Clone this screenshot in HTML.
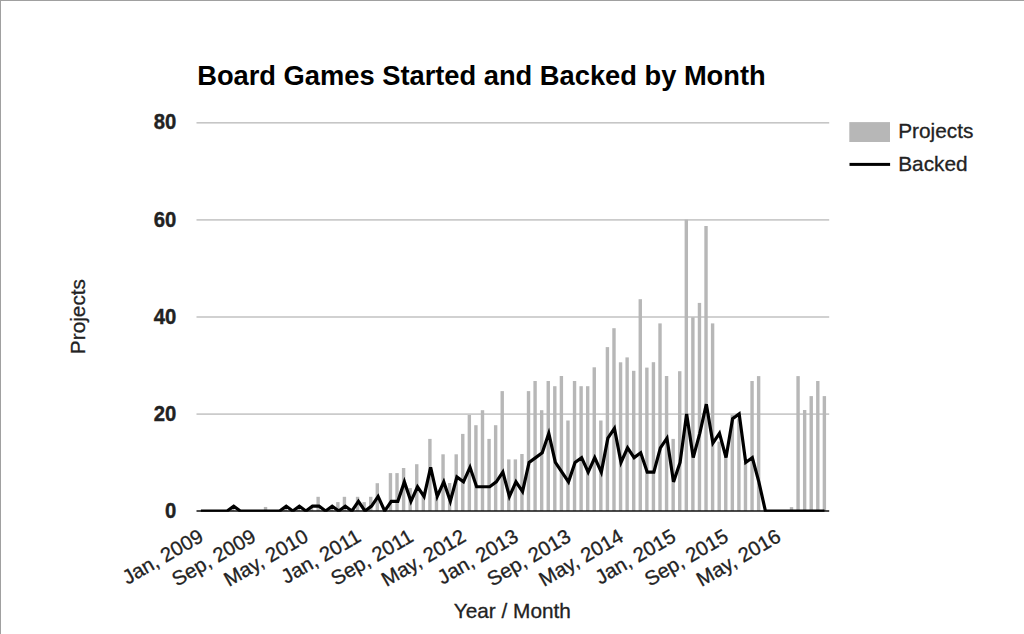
<!DOCTYPE html>
<html><head><meta charset="utf-8"><style>
html,body{margin:0;padding:0;background:#fff;}
#c{position:relative;width:1024px;height:634px;overflow:hidden;background:#fff;}
svg{position:absolute;left:0;top:0;}
</style></head><body><div id="c">
<svg width="1024" height="634" viewBox="0 0 1024 634">
<rect x="0" y="0" width="1024" height="1" fill="#a0a0a0"/>
<rect x="0" y="0" width="1" height="634" fill="#a0a0a0"/>
<rect x="196.5" y="413.30" width="632.7" height="1.6" fill="#c6c6c6"/>
<rect x="196.5" y="316.20" width="632.7" height="1.6" fill="#c6c6c6"/>
<rect x="196.5" y="219.10" width="632.7" height="1.6" fill="#c6c6c6"/>
<rect x="196.5" y="122.00" width="632.7" height="1.6" fill="#c6c6c6"/>
<rect x="230.96" y="507.04" width="3.4" height="3.96" fill="#b7b7b7"/>
<rect x="263.83" y="506.95" width="3.4" height="4.05" fill="#b7b7b7"/>
<rect x="283.56" y="507.04" width="3.4" height="3.96" fill="#b7b7b7"/>
<rect x="296.70" y="507.04" width="3.4" height="3.96" fill="#b7b7b7"/>
<rect x="309.85" y="507.04" width="3.4" height="3.96" fill="#b7b7b7"/>
<rect x="316.43" y="496.80" width="3.4" height="14.20" fill="#b7b7b7"/>
<rect x="329.58" y="507.04" width="3.4" height="3.96" fill="#b7b7b7"/>
<rect x="336.15" y="502.10" width="3.4" height="8.90" fill="#b7b7b7"/>
<rect x="342.73" y="496.80" width="3.4" height="14.20" fill="#b7b7b7"/>
<rect x="355.88" y="496.80" width="3.4" height="14.20" fill="#b7b7b7"/>
<rect x="362.45" y="502.10" width="3.4" height="8.90" fill="#b7b7b7"/>
<rect x="369.03" y="496.80" width="3.4" height="14.20" fill="#b7b7b7"/>
<rect x="375.60" y="483.20" width="3.4" height="27.80" fill="#b7b7b7"/>
<rect x="388.75" y="473.10" width="3.4" height="37.90" fill="#b7b7b7"/>
<rect x="395.32" y="473.10" width="3.4" height="37.90" fill="#b7b7b7"/>
<rect x="401.90" y="468.00" width="3.4" height="43.00" fill="#b7b7b7"/>
<rect x="408.47" y="488.10" width="3.4" height="22.90" fill="#b7b7b7"/>
<rect x="415.05" y="464.20" width="3.4" height="46.80" fill="#b7b7b7"/>
<rect x="421.62" y="492.48" width="3.4" height="18.52" fill="#b7b7b7"/>
<rect x="428.20" y="438.90" width="3.4" height="72.10" fill="#b7b7b7"/>
<rect x="434.77" y="497.33" width="3.4" height="13.67" fill="#b7b7b7"/>
<rect x="441.35" y="454.30" width="3.4" height="56.70" fill="#b7b7b7"/>
<rect x="447.92" y="483.00" width="3.4" height="28.00" fill="#b7b7b7"/>
<rect x="454.50" y="454.30" width="3.4" height="56.70" fill="#b7b7b7"/>
<rect x="461.07" y="433.90" width="3.4" height="77.10" fill="#b7b7b7"/>
<rect x="467.64" y="415.00" width="3.4" height="96.00" fill="#b7b7b7"/>
<rect x="474.22" y="425.20" width="3.4" height="85.80" fill="#b7b7b7"/>
<rect x="480.79" y="410.20" width="3.4" height="100.80" fill="#b7b7b7"/>
<rect x="487.37" y="438.90" width="3.4" height="72.10" fill="#b7b7b7"/>
<rect x="493.94" y="425.20" width="3.4" height="85.80" fill="#b7b7b7"/>
<rect x="500.52" y="391.10" width="3.4" height="119.90" fill="#b7b7b7"/>
<rect x="507.09" y="459.40" width="3.4" height="51.60" fill="#b7b7b7"/>
<rect x="513.67" y="459.40" width="3.4" height="51.60" fill="#b7b7b7"/>
<rect x="520.24" y="454.00" width="3.4" height="57.00" fill="#b7b7b7"/>
<rect x="526.82" y="391.10" width="3.4" height="119.90" fill="#b7b7b7"/>
<rect x="533.39" y="381.00" width="3.4" height="130.00" fill="#b7b7b7"/>
<rect x="539.97" y="410.20" width="3.4" height="100.80" fill="#b7b7b7"/>
<rect x="546.54" y="381.00" width="3.4" height="130.00" fill="#b7b7b7"/>
<rect x="553.11" y="386.20" width="3.4" height="124.80" fill="#b7b7b7"/>
<rect x="559.69" y="376.00" width="3.4" height="135.00" fill="#b7b7b7"/>
<rect x="566.26" y="420.50" width="3.4" height="90.50" fill="#b7b7b7"/>
<rect x="572.84" y="381.00" width="3.4" height="130.00" fill="#b7b7b7"/>
<rect x="579.41" y="386.20" width="3.4" height="124.80" fill="#b7b7b7"/>
<rect x="585.99" y="386.20" width="3.4" height="124.80" fill="#b7b7b7"/>
<rect x="592.56" y="367.30" width="3.4" height="143.70" fill="#b7b7b7"/>
<rect x="599.14" y="420.50" width="3.4" height="90.50" fill="#b7b7b7"/>
<rect x="605.71" y="347.10" width="3.4" height="163.90" fill="#b7b7b7"/>
<rect x="612.29" y="328.20" width="3.4" height="182.80" fill="#b7b7b7"/>
<rect x="618.86" y="362.30" width="3.4" height="148.70" fill="#b7b7b7"/>
<rect x="625.43" y="357.40" width="3.4" height="153.60" fill="#b7b7b7"/>
<rect x="632.01" y="370.80" width="3.4" height="140.20" fill="#b7b7b7"/>
<rect x="638.58" y="299.20" width="3.4" height="211.80" fill="#b7b7b7"/>
<rect x="645.16" y="367.60" width="3.4" height="143.40" fill="#b7b7b7"/>
<rect x="651.73" y="362.20" width="3.4" height="148.80" fill="#b7b7b7"/>
<rect x="658.31" y="323.40" width="3.4" height="187.60" fill="#b7b7b7"/>
<rect x="664.88" y="376.00" width="3.4" height="135.00" fill="#b7b7b7"/>
<rect x="671.46" y="438.90" width="3.4" height="72.10" fill="#b7b7b7"/>
<rect x="678.03" y="371.20" width="3.4" height="139.80" fill="#b7b7b7"/>
<rect x="684.61" y="219.60" width="3.4" height="291.40" fill="#b7b7b7"/>
<rect x="691.18" y="317.30" width="3.4" height="193.70" fill="#b7b7b7"/>
<rect x="697.76" y="302.90" width="3.4" height="208.10" fill="#b7b7b7"/>
<rect x="704.33" y="226.00" width="3.4" height="285.00" fill="#b7b7b7"/>
<rect x="710.90" y="323.40" width="3.4" height="187.60" fill="#b7b7b7"/>
<rect x="717.48" y="441.50" width="3.4" height="69.50" fill="#b7b7b7"/>
<rect x="724.05" y="455.00" width="3.4" height="56.00" fill="#b7b7b7"/>
<rect x="730.63" y="415.00" width="3.4" height="96.00" fill="#b7b7b7"/>
<rect x="737.20" y="418.50" width="3.4" height="92.50" fill="#b7b7b7"/>
<rect x="743.78" y="462.00" width="3.4" height="49.00" fill="#b7b7b7"/>
<rect x="750.35" y="381.00" width="3.4" height="130.00" fill="#b7b7b7"/>
<rect x="756.93" y="376.10" width="3.4" height="134.90" fill="#b7b7b7"/>
<rect x="789.80" y="507.10" width="3.4" height="3.90" fill="#b7b7b7"/>
<rect x="796.37" y="376.10" width="3.4" height="134.90" fill="#b7b7b7"/>
<rect x="802.95" y="410.00" width="3.4" height="101.00" fill="#b7b7b7"/>
<rect x="809.52" y="396.10" width="3.4" height="114.90" fill="#b7b7b7"/>
<rect x="816.10" y="381.00" width="3.4" height="130.00" fill="#b7b7b7"/>
<rect x="822.67" y="396.10" width="3.4" height="114.90" fill="#b7b7b7"/>
<rect x="196.5" y="510.25" width="632.7" height="1.5" fill="#111111"/>
<clipPath id="ca"><rect x="196.5" y="100" width="632.7" height="411.8"/></clipPath>
<polyline clip-path="url(#ca)" points="200.89,511.00 207.45,511.00 214.01,511.00 220.58,511.00 227.14,511.00 233.71,506.14 240.27,511.00 246.84,511.00 253.40,511.00 259.96,511.00 266.53,511.00 273.09,511.00 279.66,511.00 286.22,506.14 292.79,511.00 299.35,506.14 305.91,511.00 312.48,506.14 319.04,506.14 325.61,511.00 332.17,506.14 338.74,511.00 345.30,506.14 351.86,511.00 358.43,501.29 364.99,511.00 371.56,506.14 378.12,496.44 384.69,511.00 391.25,501.29 397.81,501.29 404.38,481.87 410.94,501.29 417.51,486.73 424.07,496.44 430.64,467.31 437.20,496.44 443.77,481.87 450.33,501.29 456.89,477.01 463.46,481.87 470.02,467.31 476.59,486.73 483.15,486.73 489.72,486.73 496.28,481.87 502.84,472.16 509.41,496.44 515.97,481.87 522.54,491.58 529.10,462.45 535.67,457.60 542.23,452.74 548.79,433.32 555.36,462.45 561.92,472.16 568.49,481.87 575.05,462.45 581.62,457.60 588.18,472.16 594.74,457.60 601.31,472.16 607.87,438.18 614.44,428.46 621.00,462.45 627.57,447.88 634.13,457.60 640.69,452.74 647.26,472.16 653.82,472.16 660.39,447.88 666.95,438.18 673.52,481.87 680.08,462.45 686.64,413.90 693.21,457.60 699.77,433.32 706.34,404.19 712.90,443.03 719.47,433.32 726.03,457.60 732.59,418.75 739.16,413.90 745.72,462.45 752.29,457.60 758.85,481.87 765.42,511.00 771.98,511.00 778.54,511.00 785.11,511.00 791.67,511.00 798.24,511.00 804.80,511.00 811.37,511.00 817.93,511.00 824.49,511.00" fill="none" stroke="#000" stroke-width="3.2" stroke-linejoin="miter" stroke-miterlimit="4"/>
<text x="0" y="0" transform="translate(176.2 517.80) scale(0.965 1.09)" text-anchor="end" font-family="Liberation Sans, sans-serif" font-size="21" font-weight="bold" fill="#222222" stroke="#222222" stroke-width="0.4">0</text>
<text x="0" y="0" transform="translate(176.2 420.70) scale(0.965 1.09)" text-anchor="end" font-family="Liberation Sans, sans-serif" font-size="21" font-weight="bold" fill="#222222" stroke="#222222" stroke-width="0.4">20</text>
<text x="0" y="0" transform="translate(176.2 323.60) scale(0.965 1.09)" text-anchor="end" font-family="Liberation Sans, sans-serif" font-size="21" font-weight="bold" fill="#222222" stroke="#222222" stroke-width="0.4">40</text>
<text x="0" y="0" transform="translate(176.2 226.50) scale(0.965 1.09)" text-anchor="end" font-family="Liberation Sans, sans-serif" font-size="21" font-weight="bold" fill="#222222" stroke="#222222" stroke-width="0.4">60</text>
<text x="0" y="0" transform="translate(176.2 129.40) scale(0.965 1.09)" text-anchor="end" font-family="Liberation Sans, sans-serif" font-size="21" font-weight="bold" fill="#222222" stroke="#222222" stroke-width="0.4">80</text>
<text x="204.69" y="540.4" text-anchor="end" transform="rotate(-30 204.69 540.4)" font-family="Liberation Sans, sans-serif" font-size="20.3" fill="#222222" stroke="#222222" stroke-width="0.3">Jan, 2009</text>
<text x="257.20" y="540.4" text-anchor="end" transform="rotate(-30 257.20 540.4)" font-family="Liberation Sans, sans-serif" font-size="20.3" fill="#222222" stroke="#222222" stroke-width="0.3">Sep, 2009</text>
<text x="309.71" y="540.4" text-anchor="end" transform="rotate(-30 309.71 540.4)" font-family="Liberation Sans, sans-serif" font-size="20.3" fill="#222222" stroke="#222222" stroke-width="0.3">May, 2010</text>
<text x="362.23" y="540.4" text-anchor="end" transform="rotate(-30 362.23 540.4)" font-family="Liberation Sans, sans-serif" font-size="20.3" fill="#222222" stroke="#222222" stroke-width="0.3">Jan, 2011</text>
<text x="414.74" y="540.4" text-anchor="end" transform="rotate(-30 414.74 540.4)" font-family="Liberation Sans, sans-serif" font-size="20.3" fill="#222222" stroke="#222222" stroke-width="0.3">Sep, 2011</text>
<text x="467.26" y="540.4" text-anchor="end" transform="rotate(-30 467.26 540.4)" font-family="Liberation Sans, sans-serif" font-size="20.3" fill="#222222" stroke="#222222" stroke-width="0.3">May, 2012</text>
<text x="519.77" y="540.4" text-anchor="end" transform="rotate(-30 519.77 540.4)" font-family="Liberation Sans, sans-serif" font-size="20.3" fill="#222222" stroke="#222222" stroke-width="0.3">Jan, 2013</text>
<text x="572.29" y="540.4" text-anchor="end" transform="rotate(-30 572.29 540.4)" font-family="Liberation Sans, sans-serif" font-size="20.3" fill="#222222" stroke="#222222" stroke-width="0.3">Sep, 2013</text>
<text x="624.80" y="540.4" text-anchor="end" transform="rotate(-30 624.80 540.4)" font-family="Liberation Sans, sans-serif" font-size="20.3" fill="#222222" stroke="#222222" stroke-width="0.3">May, 2014</text>
<text x="677.32" y="540.4" text-anchor="end" transform="rotate(-30 677.32 540.4)" font-family="Liberation Sans, sans-serif" font-size="20.3" fill="#222222" stroke="#222222" stroke-width="0.3">Jan, 2015</text>
<text x="729.83" y="540.4" text-anchor="end" transform="rotate(-30 729.83 540.4)" font-family="Liberation Sans, sans-serif" font-size="20.3" fill="#222222" stroke="#222222" stroke-width="0.3">Sep, 2015</text>
<text x="782.34" y="540.4" text-anchor="end" transform="rotate(-30 782.34 540.4)" font-family="Liberation Sans, sans-serif" font-size="20.3" fill="#222222" stroke="#222222" stroke-width="0.3">May, 2016</text>
<text x="197.2" y="0" transform="translate(0 84.7) scale(1 1.034)" font-family="Liberation Sans, sans-serif" font-size="27.3" font-weight="bold" fill="#000">Board Games Started and Backed by Month</text>
<rect x="849.3" y="122.1" width="40.7" height="19.9" fill="#b7b7b7"/>
<text x="898.2" y="138.3" font-family="Liberation Sans, sans-serif" font-size="20.8" fill="#222222" stroke="#222222" stroke-width="0.3">Projects</text>
<rect x="849.5" y="162.9" width="40.6" height="3" fill="#000"/>
<text x="898.2" y="170.8" font-family="Liberation Sans, sans-serif" font-size="20.8" fill="#222222" stroke="#222222" stroke-width="0.3">Backed</text>
<text x="512.3" y="618.1" text-anchor="middle" font-family="Liberation Sans, sans-serif" font-size="20.8" fill="#222222" stroke="#222222" stroke-width="0.3">Year / Month</text>
<text x="85.5" y="316.6" text-anchor="middle" transform="rotate(-90 85.5 316.6)" font-family="Liberation Sans, sans-serif" font-size="20.8" fill="#222222" stroke="#222222" stroke-width="0.3">Projects</text>
</svg></div></body></html>
